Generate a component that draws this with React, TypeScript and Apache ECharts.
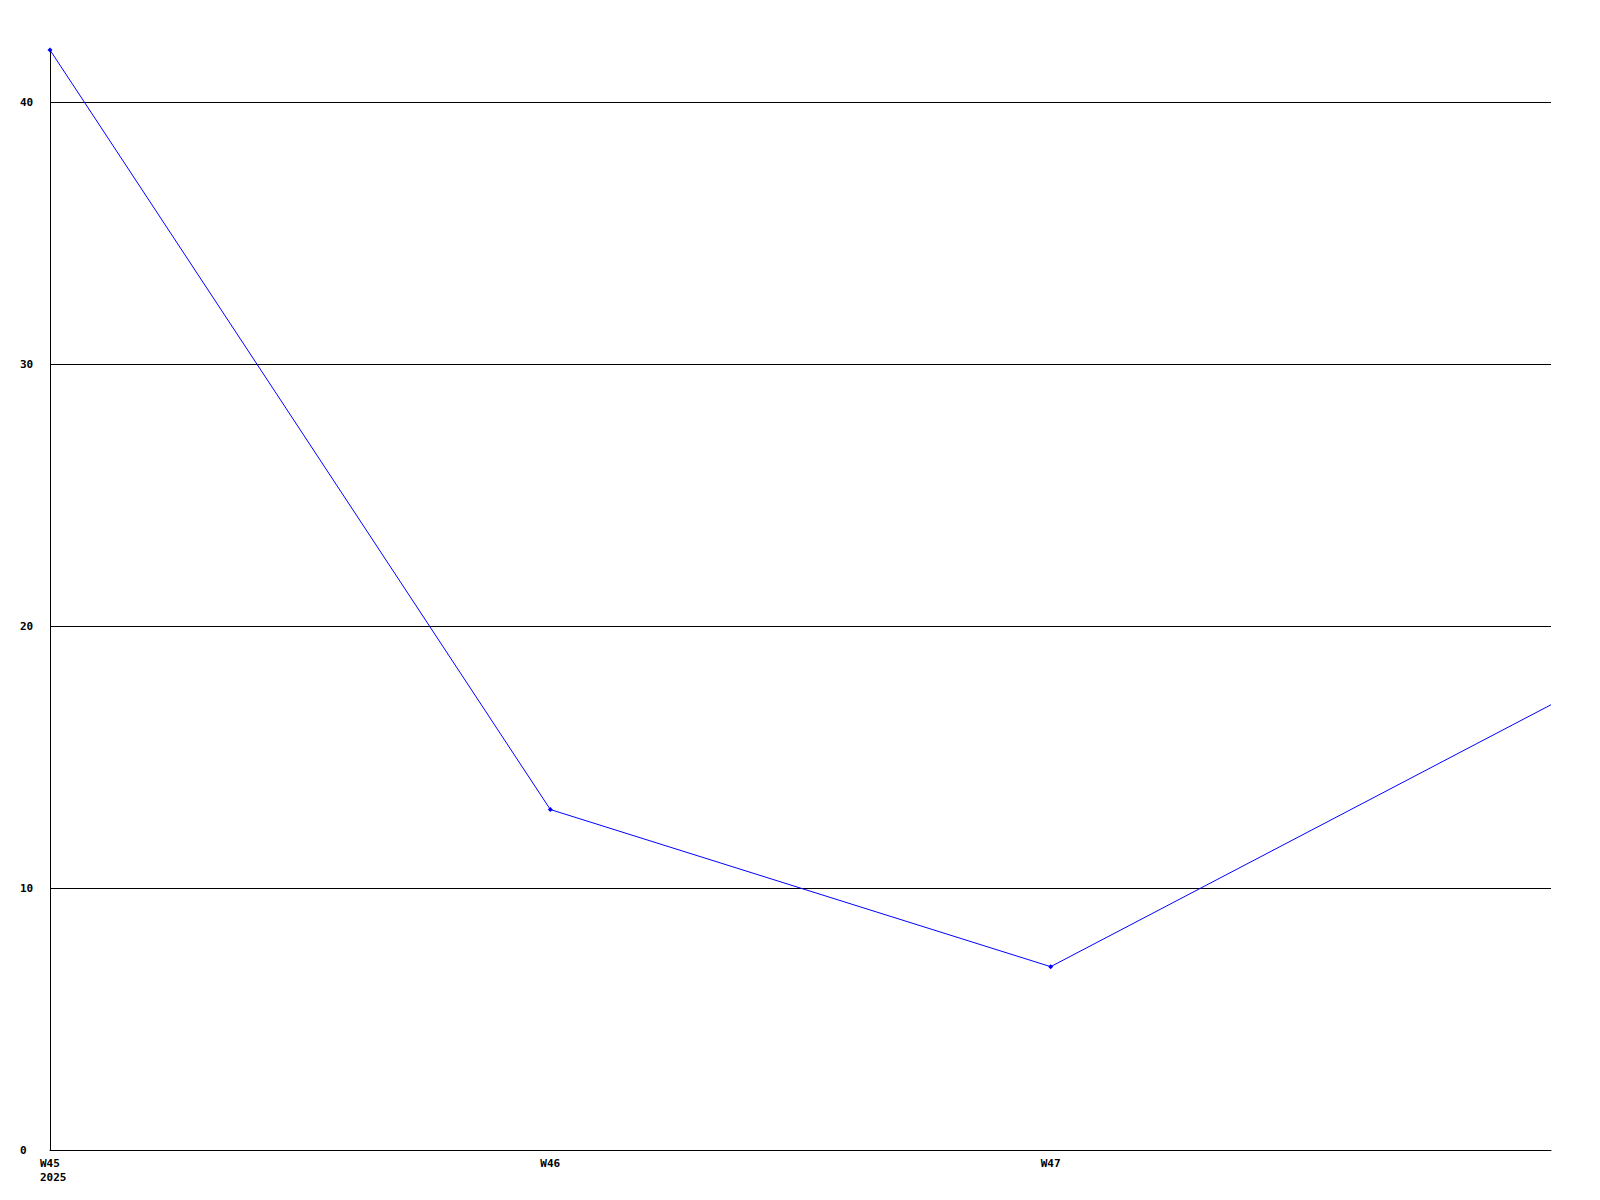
import React, { useEffect, useRef } from "react";
import * as echarts from "echarts";

const categories = ["W45", "W46", "W47", "W48"];
const values = [42, 13, 7, 17];
const yTicks = [0, 10, 20, 30, 40];
const yearLabel = "2025";

export default function App() {
  const ref = useRef<HTMLDivElement>(null);
  useEffect(() => {
    if (!ref.current) return;
    const chart = echarts.init(ref.current, undefined, { renderer: "svg" });
    const font = "DejaVu Sans Mono";
    const lastIdx = values.length - 1;
    chart.setOption({
      animation: false,
      backgroundColor: "#ffffff",
      grid: { left: 50, right: 49, top: 50, bottom: 50, containLabel: false },
      xAxis: {
        type: "category",
        data: categories,
        boundaryGap: false,
        axisLine: { show: true, lineStyle: { color: "#000", width: 1 } },
        axisTick: { show: false },
        splitLine: { show: false },
        axisLabel: {
          interval: 0,
          margin: 6,
          align: "left",
          padding: [0, 0, 0, -10],
          color: "#000",
          fontFamily: font,
          fontWeight: "bold",
          fontSize: 11,
          lineHeight: 14,
          formatter: (v: string, i: number) =>
            i === lastIdx ? "" : i === 0 ? v + "\n" + yearLabel : v,
        },
      },
      yAxis: {
        type: "value",
        min: 0,
        max: 42,
        interval: 10,
        axisLine: { show: true, lineStyle: { color: "#000", width: 1 } },
        axisTick: { show: false },
        splitLine: { show: true, showMinLine: false, showMaxLine: false, lineStyle: { color: "#000", width: 1 } },
        axisLabel: {
          margin: 30,
          align: "left",
          color: "#000",
          fontFamily: font,
          fontWeight: "bold",
          fontSize: 11,
          showMaxLabel: false,
          formatter: (v: number) => (yTicks.includes(v) ? String(v) : ""),
        },
      },
      series: [
        {
          type: "line",
          data: values.map((v, i) => (i === lastIdx ? { value: v, symbol: "none" } : v)),
          symbol: "diamond",
          symbolSize: 5,
          showAllSymbol: true,
          lineStyle: { color: "#0000ff", width: 1 },
          itemStyle: { color: "#0000ff" },
          clip: true,
        },
      ],
    });
    return () => chart.dispose();
  }, []);
  return <div ref={ref} style={{ width: 1600, height: 1200, position: "absolute", left: 0, top: 0 }} />;
}
